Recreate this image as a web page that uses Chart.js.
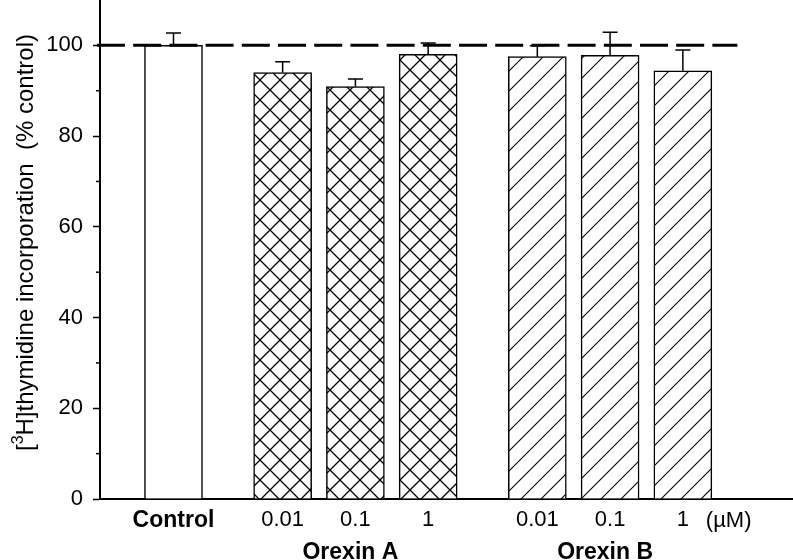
<!DOCTYPE html>
<html>
<head>
<meta charset="utf-8">
<script src="https://cdn.jsdelivr.net/npm/chart.js@4.4.1/dist/chart.umd.min.js"></script>
<style>
  html, body { margin:0; padding:0; background:#fff; }
  #wrap { width:793px; height:560px; position:relative; }
</style>
</head>
<body>
<div id="wrap"><canvas id="myBarChart"></canvas></div>
<script>
// bar positions on the x axis (Control, Orexin A x3, Orexin B x3)
const xPos = [0, 1.5, 2.5, 3.5, 5, 6, 7]
const tickLabels = ['Control', '0.01', '0.1', '1', '0.01', '0.1', '1']
const means = [100, 94.0, 90.9, 98.0, 97.5, 97.8, 94.4]
const errUp = [2.7, 2.4, 1.7, 2.5, 2.4, 5.1, 4.6]
const fills = ['plain', 'cross', 'cross', 'cross', 'hatch', 'hatch', 'hatch']
const groupNames = ['Orexin A', 'Orexin B']
const groupMembers = [[1, 2, 3], [4, 5, 6]]
const yMajor = [0, 20, 40, 60, 80, 100]
const yMinor = [10, 30, 50, 70, 90]
const refLine = 100
const unitLabel = '(\u00b5M)'
const yTitle = ['[', '3', 'H]thymidine incorporation  (% control)']

const FONT = "'Liberation Sans', Arial, Helvetica, sans-serif"

function makePattern(kind){
    if(kind == 'plain') return '#fff'
    let c = document.createElement('canvas')
    c.width = 20; c.height = 20
    let g = c.getContext('2d')
    g.fillStyle = '#fff'
    g.fillRect(0, 0, 20, 20)
    g.strokeStyle = '#000'
    g.lineWidth = kind == 'cross' ? 1.3 : 1.1
    g.beginPath()
    // "/" lines
    g.moveTo(-5, 25); g.lineTo(25, -5)
    g.moveTo(-5, 5); g.lineTo(5, -5)
    g.moveTo(15, 25); g.lineTo(25, 15)
    if(kind == 'cross'){
        // "\" lines
        g.moveTo(-5, -5); g.lineTo(25, 25)
        g.moveTo(-5, 15); g.lineTo(5, 25)
        g.moveTo(15, -5); g.lineTo(25, 5)
    }
    g.stroke()
    return g.createPattern(c, 'repeat')
}

const extras = {
    id: 'extras',
    afterDatasetsDraw(chart){
        const ctx = chart.ctx
        const xs = chart.scales.x, ys = chart.scales.y
        const area = chart.chartArea
        ctx.save()
        ctx.strokeStyle = '#000'
        ctx.fillStyle = '#000'

        // error bars (upper only)
        ctx.lineWidth = 1.5
        chart.getDatasetMeta(0).data.forEach((bar, i) => {
            let y0 = ys.getPixelForValue(means[i])
            let y1 = ys.getPixelForValue(means[i] + errUp[i])
            ctx.beginPath()
            ctx.moveTo(bar.x, y0); ctx.lineTo(bar.x, y1)
            ctx.moveTo(bar.x - 7.5, y1); ctx.lineTo(bar.x + 7.5, y1)
            ctx.stroke()
        })

        // minor y ticks
        ctx.lineWidth = 1.5
        yMinor.forEach(v => {
            let y = ys.getPixelForValue(v)
            ctx.beginPath()
            ctx.moveTo(area.left - 4, y); ctx.lineTo(area.left, y)
            ctx.stroke()
        })

        // dashed reference line at 100 %
        let yr = ys.getPixelForValue(refLine)
        ctx.setLineDash([28, 8.2])
        ctx.lineWidth = 3
        ctx.beginPath()
        ctx.moveTo(area.left - 3, yr)
        ctx.lineTo(xs.getPixelForValue(xPos[xPos.length - 1] + 0.75), yr)
        ctx.stroke()
        ctx.setLineDash([])

        // unit label
        ctx.font = '22px ' + FONT
        ctx.textAlign = 'center'
        ctx.textBaseline = 'alphabetic'
        ctx.fillText(unitLabel, xs.getPixelForValue(xPos[xPos.length - 1] + 0.63), area.bottom + 28)

        // group labels
        ctx.font = 'bold 23px ' + FONT
        groupNames.forEach((name, k) => {
            let m = groupMembers[k].map(i => xPos[i])
            let c = m.reduce((a, b) => a + b, 0) / m.length
            ctx.fillText(name, xs.getPixelForValue(c) - 5, area.bottom + 60)
        })

        // y axis title with superscript
        ctx.translate(33, (area.top + area.bottom) / 2 - 7)
        ctx.rotate(-Math.PI / 2)
        ctx.textAlign = 'left'
        let fMain = '24px ' + FONT, fSup = '16px ' + FONT
        ctx.font = fMain
        let w0 = ctx.measureText(yTitle[0]).width
        let w2 = ctx.measureText(yTitle[2]).width
        ctx.font = fSup
        let w1 = ctx.measureText(yTitle[1]).width
        let x = -(w0 + w1 + w2) / 2
        ctx.font = fMain
        ctx.fillText(yTitle[0], x, 0)
        x += w0
        ctx.font = fSup
        ctx.fillText(yTitle[1], x, -10)
        x += w1
        ctx.font = fMain
        ctx.fillText(yTitle[2], x, 0)
        ctx.restore()
    }
}

const ctx2 = document.getElementById('myBarChart').getContext('2d')
const myBarChart = new Chart(ctx2, {
    type: 'bar',
    data: {
        datasets: [{
            data: xPos.map((x, i) => ({ x: x, y: means[i] })),
            backgroundColor: fills.map(makePattern),
            borderColor: '#000',
            borderWidth: 1.5,
            barThickness: 58
        }]
    },
    options: {
        responsive: true,
        maintainAspectRatio: false,
        animation: false,
        devicePixelRatio: 1,
        layout: { padding: { top: 0, right: 1, bottom: 0, left: 0 } },
        plugins: {
            legend: { display: false },
            tooltip: { enabled: false }
        },
        scales: {
            x: {
                type: 'linear',
                offset: false,
                min: -1.01,
                max: 8.5,
                afterBuildTicks: s => { s.ticks = xPos.map(v => ({ value: v })) },
                afterFit: s => { s.height = 61; s.paddingLeft = 0; s.paddingRight = 0 },
                ticks: {
                    autoSkip: false,
                    maxRotation: 0,
                    padding: 8,
                    color: '#000',
                    callback: (v, i) => tickLabels[i],
                    font: c => c.index === 0 ? { family: FONT, size: 23, weight: 'bold' } : { family: FONT, size: 22 }
                },
                grid: { display: false, drawTicks: false },
                border: { display: true, color: '#000', width: 2 }
            },
            y: {
                min: 0,
                max: 110,
                afterBuildTicks: s => { s.ticks = yMajor.map(v => ({ value: v })) },
                afterFit: s => { s.width = 100; s.paddingTop = 0; s.paddingBottom = 0 },
                ticks: {
                    padding: 10,
                    color: '#000',
                    font: { family: FONT, size: 22 }
                },
                grid: { display: true, drawOnChartArea: false, drawTicks: true, tickLength: 7, color: '#000', tickWidth: 1.5 },
                border: { display: true, color: '#000', width: 2 }
            }
        }
    },
    plugins: [extras]
})
</script>
</body>
</html>
